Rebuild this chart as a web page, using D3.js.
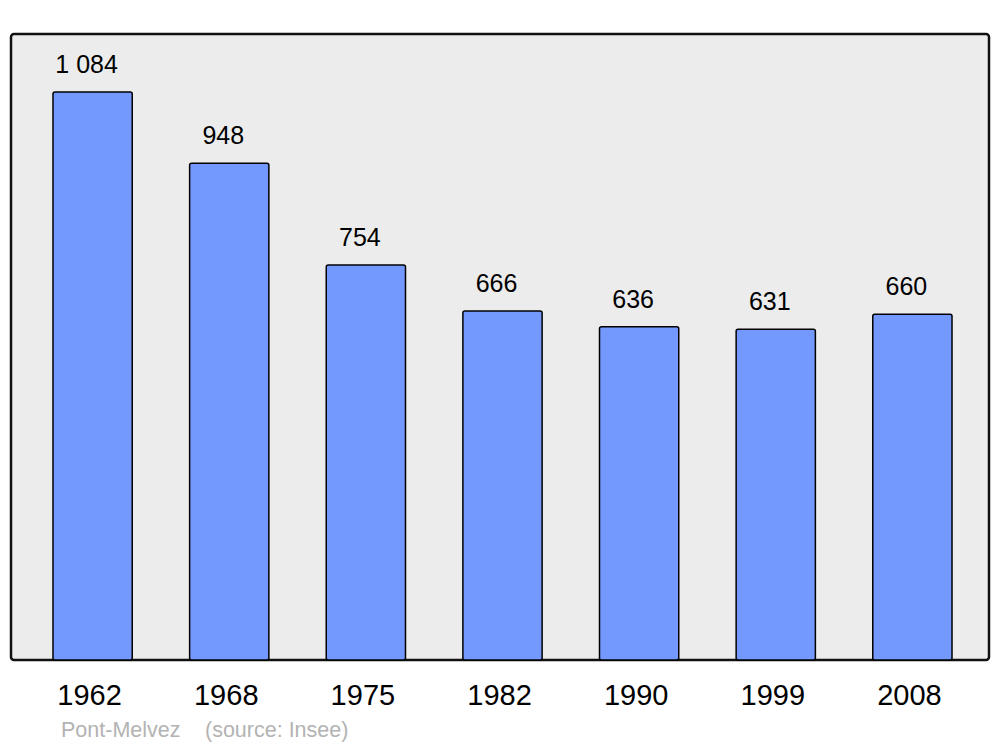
<!DOCTYPE html>
<html>
<head>
<meta charset="utf-8">
<script src="https://cdn.jsdelivr.net/npm/d3@7"></script>
<style>
  html, body { margin: 0; padding: 0; background: #fff; }
  svg { display: block; font-family: "Liberation Sans", Arial, sans-serif; }
</style>
</head>
<body>
<svg id="chart" width="1000" height="747"></svg>
<script>
const years = ["1962", "1968", "1975", "1982", "1990", "1999", "2008"];
const population = [1084, 948, 754, 666, 636, 631, 660];
const commune = "Pont-Melvez";
const source = "(source: Insee)";

const svg = d3.select("#chart");
const frame = { left: 11, top: 34, right: 989, bottom: 660 };

svg.append("rect")
  .attr("x", frame.left).attr("y", frame.top)
  .attr("width", frame.right - frame.left).attr("height", frame.bottom - frame.top)
  .attr("rx", 3).attr("ry", 3)
  .attr("fill", "#ececec").attr("stroke", "#111").attr("stroke-width", 2.5);

const x = d3.scaleBand().domain(years).range([24.3, 980.7]).paddingInner(0.42).paddingOuter(0.21);
const y = d3.scaleLinear().domain([0, 1084]).range([frame.bottom, 92]);

const fmt = d3.formatLocale({ decimal: ",", thousands: "\u00a0", grouping: [3], currency: ["", "€"] }).format(",d");

const data = years.map((yr, i) => ({ year: yr, value: population[i] }));

svg.append("g").selectAll("rect").data(data).join("rect")
  .attr("x", d => x(d.year))
  .attr("y", d => y(d.value))
  .attr("width", x.bandwidth())
  .attr("height", d => y(0) - y(d.value))
  .attr("rx", 2).attr("ry", 2)
  .attr("fill", "#7399ff").attr("stroke", "#000").attr("stroke-width", 1.5);

svg.append("g").selectAll("text").data(data).join("text")
  .attr("x", d => x(d.year) + x.bandwidth() / 2 - 6)
  .attr("y", d => y(d.value) - 19)
  .attr("text-anchor", "middle")
  .attr("font-size", 25)
  .attr("fill", "#000")
  .text(d => fmt(d.value));

const axis = d3.axisBottom(x).tickSize(0).tickPadding(0);
const gAxis = svg.append("g").attr("transform", `translate(0,${frame.bottom})`).call(axis);
gAxis.select(".domain").remove();
gAxis.selectAll("text")
  .attr("font-size", 29)
  .attr("font-family", "Liberation Sans, Arial, sans-serif")
  .attr("fill", "#000")
  .attr("dy", null)
  .attr("y", 45)
  .attr("dx", -3);

svg.append("text")
  .attr("x", 61).attr("y", 737)
  .attr("font-size", 21.5)
  .attr("fill", "#b3b3b3")
  .text(commune);
svg.append("text")
  .attr("x", 205).attr("y", 737)
  .attr("font-size", 21.5)
  .attr("fill", "#b3b3b3")
  .text(source);
</script>
</body>
</html>
